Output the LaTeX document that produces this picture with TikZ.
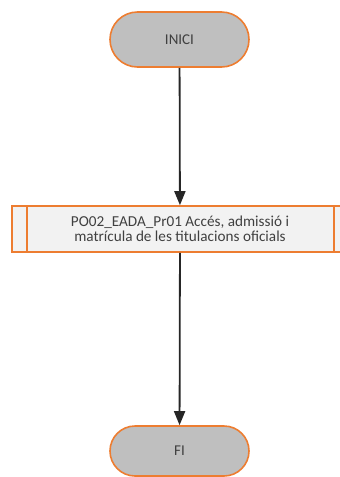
\documentclass[tikz,border=0pt]{standalone}
\usepackage{fontspec}
\setmainfont{Carlito}
\usetikzlibrary{arrows.meta}
\definecolor{orangeB}{HTML}{ED7D31}
\definecolor{termfill}{HTML}{BFBFBF}
\definecolor{procfill}{HTML}{F2F2F2}
\definecolor{txtgray}{HTML}{404040}
\definecolor{arrowc}{HTML}{262626}
\tikzset{
  terminal/.style={draw=orangeB, line width=1.6pt, fill=termfill, rectangle,
    minimum width=139pt, inner sep=0pt, text=txtgray, font=\fontsize{15}{16}\selectfont},
  procbox/.style={draw=orangeB, line width=1.6pt, fill=procfill, rectangle,
    minimum width=336pt, minimum height=46pt, inner sep=0pt, text=txtgray, align=center,
    font=\fontsize{15.2}{15}\selectfont},
  flow/.style={draw=arrowc, line width=1.8pt, -{Triangle[length=14pt,width=11pt]}}
}
\begin{document}
\begin{tikzpicture}[x=1pt,y=1pt]
\useasboundingbox (0,0) rectangle (340,-477);
\node[terminal, minimum height=55pt, rounded corners=27.5pt] (inici) at (179.5,-39.5) {INICI};
\node[procbox] (proc) at (180,-229) {PO02\_EADA\_Pr01 Accés, admissió i\\matrícula de les titulacions oficials};
\draw[draw=orangeB, line width=1.6pt] ([xshift=16pt]proc.north west) -- ([xshift=16pt]proc.south west);
\draw[draw=orangeB, line width=1.6pt] ([xshift=-15pt]proc.north east) -- ([xshift=-15pt]proc.south east);
\node[terminal, minimum height=50pt, rounded corners=25pt] (fi) at (179.5,-451) {FI};
\draw[flow] (inici) -- (proc);
\draw[flow] (proc) -- (fi);
\end{tikzpicture}
\end{document}
